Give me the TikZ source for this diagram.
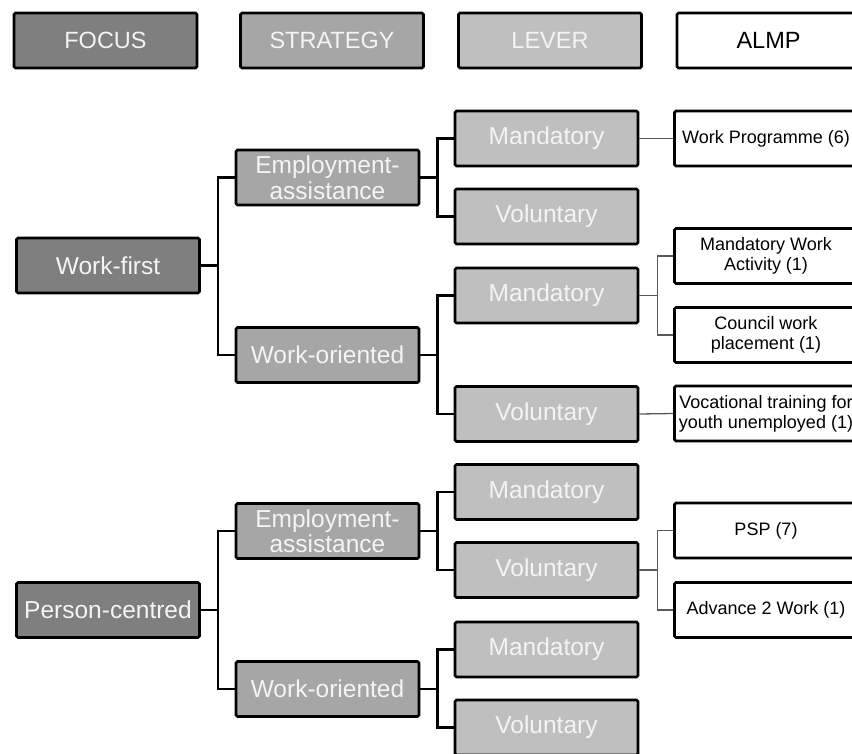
\documentclass[tikz,border=0pt]{standalone}
\usepackage{fontspec}
\setmainfont{Liberation Sans}
\usepackage{xcolor}
\usepackage{tikz}
\definecolor{FocusGrey}{HTML}{7F7F7F}
\definecolor{StrategyGrey}{HTML}{A6A6A6}
\definecolor{LeverGrey}{HTML}{BFBFBF}
\definecolor{TwigGrey}{HTML}{5A5A5A}
\definecolor{LabelWhite}{HTML}{F4F4F4}

\tikzset{
  box/.style={draw=black,line width=2.7pt,rounded corners=1.5pt,minimum width=183pt,minimum height=55pt,inner sep=0pt,align=center,text=LabelWhite,font=\fontsize{24.5}{25.5}\selectfont},
  focusbox/.style={box,fill=FocusGrey},
  stratbox/.style={box,fill=StrategyGrey},
  leverbox/.style={box,fill=LeverGrey},
  almpbox/.style={box,fill=white,text=black,font=\fontsize{18}{20}\selectfont},
  tree/.style={line width=2.7pt},
  twig/.style={TwigGrey,line width=1.3pt}
}

\begin{document}
\begin{tikzpicture}[x=1pt,y=-1pt]
\useasboundingbox (0,0) rectangle (852,753);
% headings
\node[focusbox,font=\fontsize{23.5}{25.5}\selectfont] (hfocus) at (105.5,40.5) {FOCUS};
\node[stratbox,font=\fontsize{23.5}{25.5}\selectfont] (hstrat) at (332,40.5) {STRATEGY};
\node[leverbox,font=\fontsize{23.5}{25.5}\selectfont] (hlever) at (550,40.5) {LEVER};
\node[almpbox,font=\fontsize{23.5}{25.5}\selectfont] (halmp) at (768.5,40.5) {ALMP};
% focus
\node[focusbox] (wf) at (108,265.5) {Work-first};
\node[focusbox] (pc) at (108,610) {Person-centred};
% strategy
\node[stratbox] (wfea) at (327.5,177.5) {Employment-\\assistance};
\node[stratbox] (wfwo) at (327.5,355) {Work-oriented};
\node[stratbox] (pcea) at (327.5,531) {Employment-\\assistance};
\node[stratbox] (pcwo) at (327.5,689) {Work-oriented};
% lever
\node[leverbox] (wfeam) at (546.5,138.5) {Mandatory};
\node[leverbox] (wfeav) at (546.5,216.5) {Voluntary};
\node[leverbox] (wfwom) at (546.5,295.5) {Mandatory};
\node[leverbox] (wfwov) at (546.5,414) {Voluntary};
\node[leverbox] (pceam) at (546.5,492) {Mandatory};
\node[leverbox] (pceav) at (546.5,570) {Voluntary};
\node[leverbox] (pcwom) at (546.5,649.5) {Mandatory};
\node[leverbox] (pcwov) at (546.5,727.5) {Voluntary};
% almp
\node[almpbox] (wp) at (766,138.5) {Work Programme (6)};
\node[almpbox] (mwa) at (766,256) {Mandatory Work\\Activity (1)};
\node[almpbox] (cwp) at (766,335) {Council work\\placement (1)};
\node[almpbox] (vt) at (766,413.5) {Vocational training for\\youth unemployed (1)};
\node[almpbox] (psp) at (766,530.5) {PSP (7)};
\node[almpbox] (a2w) at (766,610) {Advance 2 Work (1)};
% focus to strategy
\draw[tree] (wf.east) -- ++(17,0) |- (wfea.west);
\draw[tree] (wf.east) -- ++(17,0) |- (wfwo.west);
\draw[tree] (pc.east) -- ++(17,0) |- (pcea.west);
\draw[tree] (pc.east) -- ++(17,0) |- (pcwo.west);
% strategy to lever
\draw[tree] (wfea.east) -- ++(17,0) |- (wfeam.west);
\draw[tree] (wfea.east) -- ++(17,0) |- (wfeav.west);
\draw[tree] (wfwo.east) -- ++(17,0) |- (wfwom.west);
\draw[tree] (wfwo.east) -- ++(17,0) |- (wfwov.west);
\draw[tree] (pcea.east) -- ++(17,0) |- (pceam.west);
\draw[tree] (pcea.east) -- ++(17,0) |- (pceav.west);
\draw[tree] (pcwo.east) -- ++(17,0) |- (pcwom.west);
\draw[tree] (pcwo.east) -- ++(17,0) |- (pcwov.west);
% lever to almp
\draw[twig] (wfeam.east) -- (wp.west);
\draw[twig] (wfwom.east) -- ++(18,0) |- (mwa.west);
\draw[twig] (wfwom.east) -- ++(18,0) |- (cwp.west);
\draw[twig] (wfwov.east) -- (vt.west);
\draw[twig] (pceav.east) -- ++(18,0) |- (psp.west);
\draw[twig] (pceav.east) -- ++(18,0) |- (a2w.west);
\end{tikzpicture}
\end{document}
